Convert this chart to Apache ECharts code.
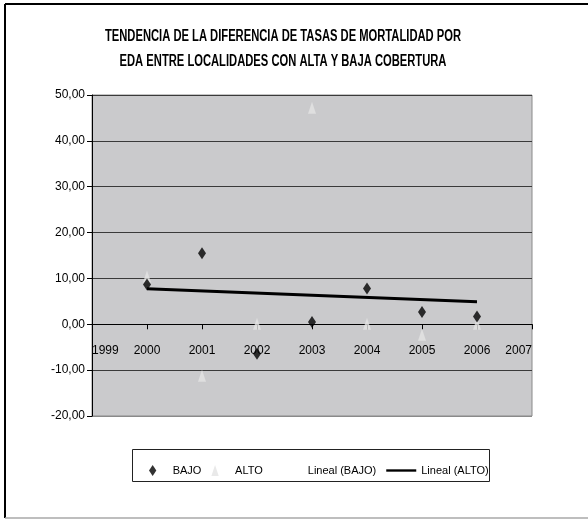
<!DOCTYPE html>
<html>
<head>
<meta charset="utf-8">
<script src="https://cdn.jsdelivr.net/npm/echarts@6/dist/echarts.min.js"></script>
<style>
  html, body { margin: 0; padding: 0; background: #fff; }
  #chart { width: 588px; height: 519px; }
</style>
</head>
<body>
<div id="chart"></div>
<script>
// Years on the horizontal axis
const years = [2000, 2001, 2002, 2003, 2004, 2005, 2006];
// Difference in EDA mortality rates, low-coverage localities
const bajo = [8.7, 15.5, -6.4, 0.5, 7.8, 2.7, 1.7];
// Difference in EDA mortality rates, high-coverage localities
const alto = [10.4, -11.2, 0.1, 47.2, 0.1, -2.3, 0.1];
// Axis ranges
const xRange = [1999, 2007];
const yRange = [-20, 50];
// Title lines
const titleLines = [
  'TENDENCIA DE LA DIFERENCIA DE TASAS DE MORTALIDAD POR',
  'EDA ENTRE LOCALIDADES CON ALTA Y BAJA COBERTURA'
];

const FONT = '"Liberation Sans", Arial, sans-serif';

// Ordinary least-squares trend over the years
function linearTrend(xs, ys) {
  const n = xs.length;
  const mx = xs.reduce((a, b) => a + b, 0) / n;
  const my = ys.reduce((a, b) => a + b, 0) / n;
  let sxy = 0, sxx = 0;
  for (let i = 0; i < n; i++) {
    sxy += (xs[i] - mx) * (ys[i] - my);
    sxx += (xs[i] - mx) * (xs[i] - mx);
  }
  const b = sxy / sxx;
  const a = my - b * mx;
  return [[xs[0], a + b * xs[0]], [xs[n - 1], a + b * xs[n - 1]]];
}

const pairs = (ys) => years.map((y, i) => [y, ys[i]]);
const fmt = (v) => v.toFixed(2).replace('.', ',');

const W = 588, H = 519;
const grid = { left: 92, right: 56, top: 95, bottom: 103 };
const gridH = H - grid.top - grid.bottom;
// the year axis sits on the zero line
const zeroOffset = -gridH * (0 - yRange[0]) / (yRange[1] - yRange[0]);

// condensed bold title lines
const titleGraphics = titleLines.map((t, i) => ({
  type: 'text',
  x: 283, y: 37 + i * 25,
  scaleX: 0.7,
  style: {
    text: t, fontFamily: FONT, fontWeight: 'bold', fontSize: 16,
    fill: '#000', align: 'center', verticalAlign: 'middle'
  }
}));

const chart = echarts.init(document.getElementById('chart'), null, { renderer: 'canvas' });

chart.setOption({
  animation: false,
  backgroundColor: '#ffffff',
  graphic: [
    ...titleGraphics,
    { type: 'line', shape: { x1: 5, y1: 4, x2: 588, y2: 4 }, style: { stroke: '#000', lineWidth: 2 } },
    { type: 'line', shape: { x1: 5, y1: 4, x2: 5, y2: 518 }, style: { stroke: '#000', lineWidth: 2 } },
    { type: 'line', shape: { x1: 5, y1: 518, x2: 588, y2: 518 }, style: { stroke: '#a8a8a8', lineWidth: 1.5 } },
    { type: 'rect', shape: { x: 132.5, y: 449.5, width: 357, height: 32 }, style: { fill: '#fff', stroke: '#222', lineWidth: 1 }, z: -1 }
  ],
  legend: {
    left: 144,
    top: 460,
    itemWidth: 30,
    itemHeight: 11,
    itemGap: 10,
    symbolKeepAspect: true,
    textStyle: { fontFamily: FONT, fontSize: 11, color: '#000' },
    data: [
      { name: 'BAJO', icon: 'path://M4,0 L8,6 L4,12 L0,6 Z' },
      { name: 'ALTO', icon: 'path://M4,0 L8,12 L0,12 Z' },
      { name: 'Lineal (BAJO)', icon: 'path://M0,0 H38 V3 H0 Z' },
      { name: 'Lineal (ALTO)', icon: 'path://M0,0 H38 V3 H0 Z' }
    ]
  },
  grid: { left: grid.left, right: grid.right, top: grid.top, bottom: grid.bottom, show: true, backgroundColor: '#cacacc', borderColor: '#8a8a8a', borderWidth: 1 },
  xAxis: {
    type: 'value',
    min: xRange[0],
    max: xRange[1],
    interval: 1,
    offset: zeroOffset,
    axisLine: { onZero: false, lineStyle: { color: '#000', width: 1 } },
    axisTick: { show: true, length: 5, lineStyle: { color: '#000' } },
    splitLine: { show: false },
    axisLabel: {
      margin: 20,
      fontFamily: FONT, fontSize: 12, color: '#000',
      alignMinLabel: 'left', alignMaxLabel: 'right',
      formatter: (v) => String(v)
    }
  },
  yAxis: {
    type: 'value',
    min: yRange[0],
    max: yRange[1],
    interval: 10,
    axisLine: { show: true, lineStyle: { color: '#000', width: 1 } },
    axisTick: { show: true, length: 5, lineStyle: { color: '#000' } },
    splitLine: { show: true, lineStyle: { color: ['#8a8a8a', '#3a3a3a', '#3a3a3a', '#3a3a3a', '#3a3a3a', '#3a3a3a', '#3a3a3a', '#3a3a3a'], width: 1 } },
    axisLabel: { margin: 7, fontFamily: FONT, fontSize: 12, color: '#000', formatter: fmt }
  },
  series: [
    {
      name: 'BAJO', type: 'scatter', data: pairs(bajo),
      symbol: 'diamond', symbolSize: [8, 12],
      itemStyle: { color: '#000' }, z: 4
    },
    {
      name: 'ALTO', type: 'scatter', data: pairs(alto),
      symbol: 'triangle', symbolSize: [8, 12],
      itemStyle: { color: '#e4e4e4' }, z: 3
    },
    {
      name: 'Lineal (BAJO)', type: 'line', data: linearTrend(years, bajo),
      symbol: 'none', lineStyle: { color: 'rgba(0,0,0,0)', width: 0, opacity: 0 }, itemStyle: { color: 'rgba(0,0,0,0)' }, z: 2
    },
    {
      name: 'Lineal (ALTO)', type: 'line', data: linearTrend(years, alto),
      symbol: 'none', lineStyle: { color: '#000', width: 3 }, itemStyle: { color: '#000' }, z: 2
    }
  ]
});
</script>
</body>
</html>
